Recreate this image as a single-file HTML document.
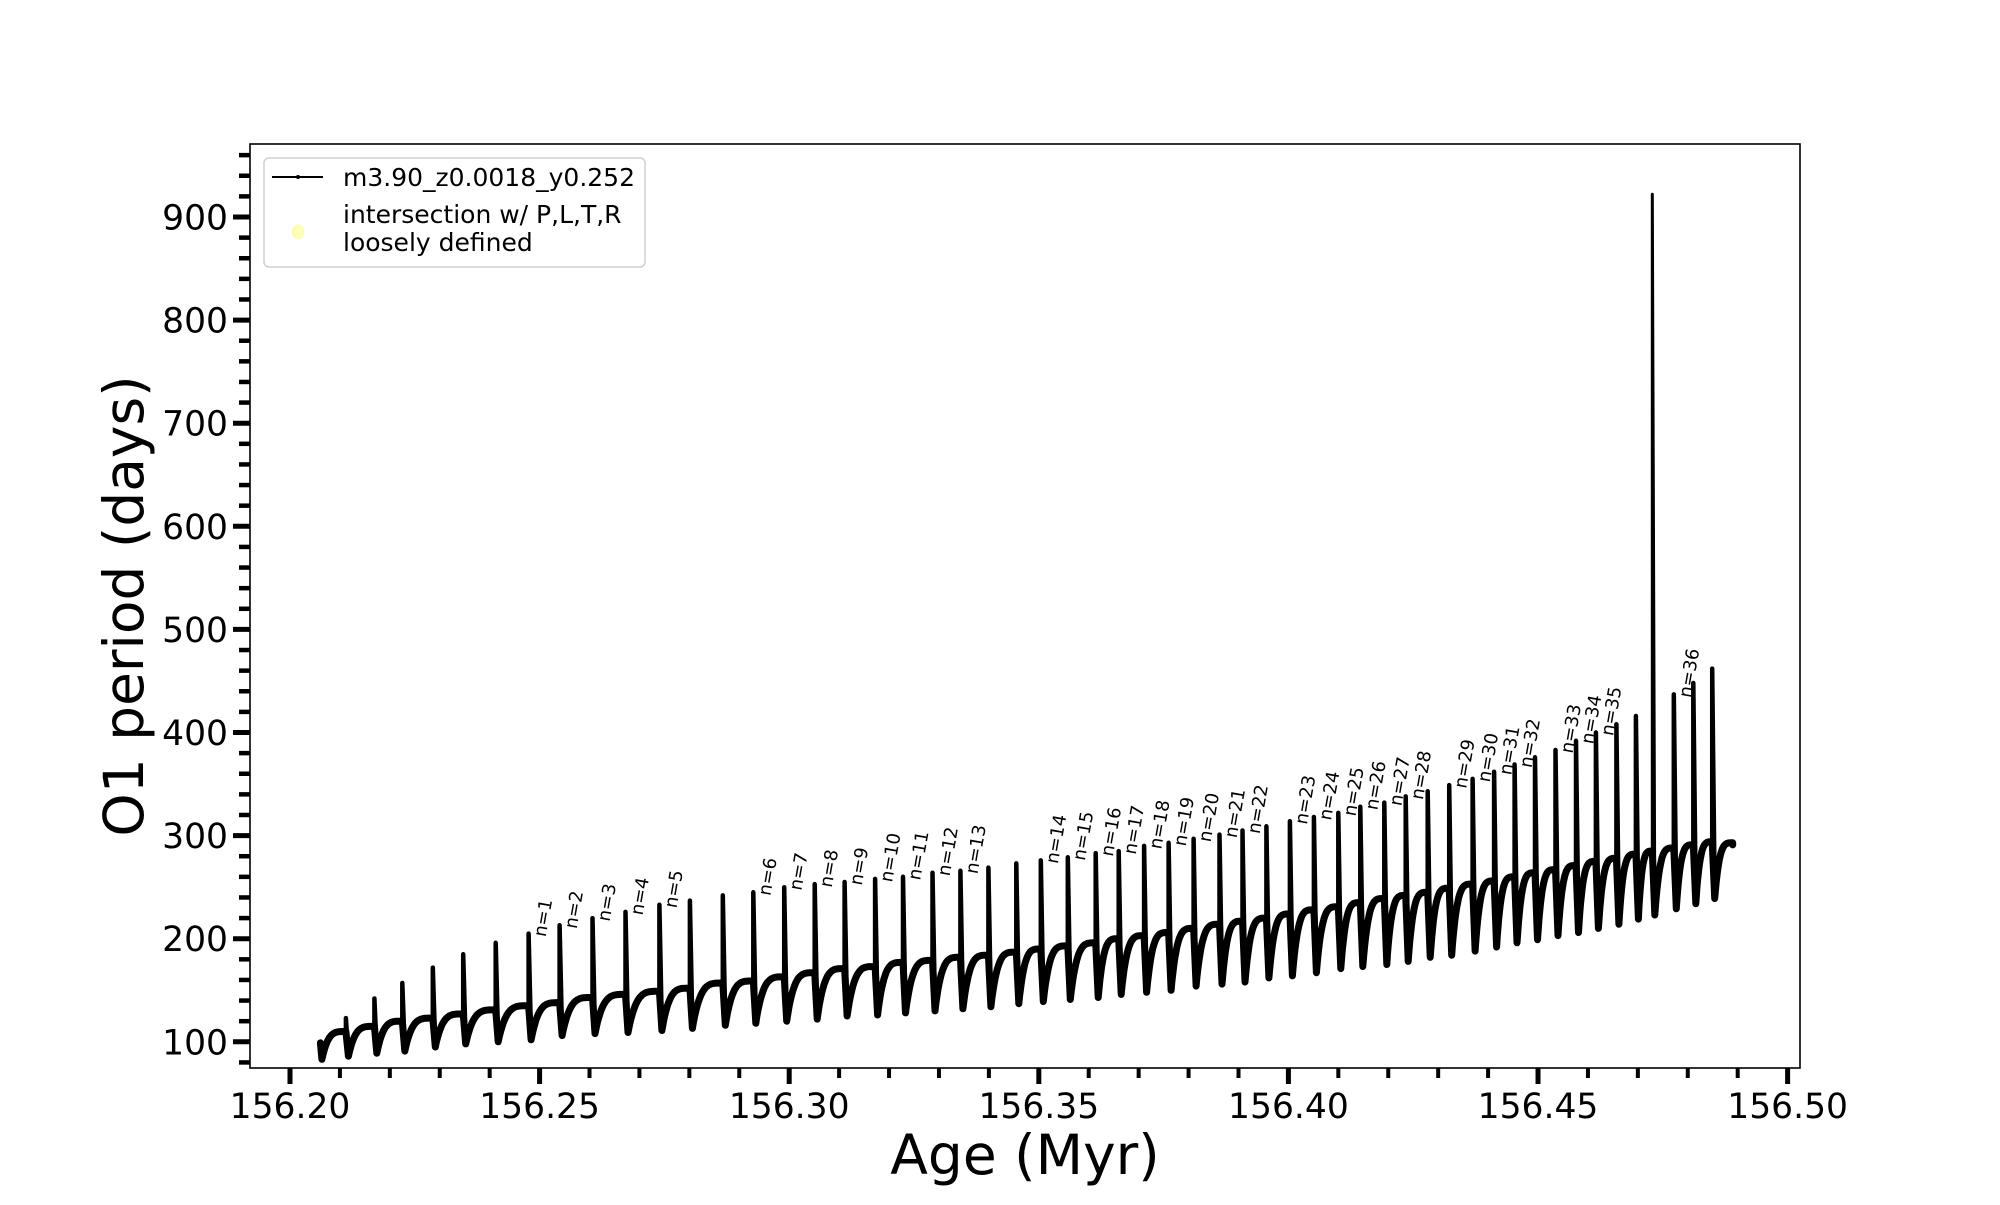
<!DOCTYPE html>
<html><head><meta charset="utf-8"><style>
html,body{margin:0;padding:0;background:#fff;}
svg text{font-family:"DejaVu Sans","Liberation Sans",sans-serif;}
</style></head><body>
<svg id="chart" width="2000" height="1200" viewBox="0 0 2000 1200" xmlns="http://www.w3.org/2000/svg">
<rect x="0" y="0" width="2000" height="1200" fill="#fff"/>
<g id="plot"></g>
<g id="axes"></g>
</svg>
<script>
const startAge = 156.2061, startValue = 99, startTrough = 83;
const endAge = 156.4890, endValue = 293;
const spikeAges = [156.2112,156.2169,156.2225,156.2286,156.2347,156.2412,156.2478,156.2540,156.2606,156.2672,156.2740,156.2801,156.2867,156.2928,156.2990,156.3051,156.3111,156.3172,156.3228,156.3287,156.3343,156.3399,156.3455,156.3504,156.3558,156.3614,156.3660,156.3711,156.3760,156.3810,156.3862,156.3908,156.3956,156.4003,156.4051,156.4100,156.4144,156.4192,156.4235,156.4279,156.4322,156.4369,156.4412,156.4453,156.4494,156.4535,156.4576,156.4616,156.4657,156.4696,156.4729,156.4772,156.4811,156.4849];
const spikeTops = [123,142,157,172,185,196,205,213,220,226,233,237,242,245,250,253,255,258,260,264,266,269,273,276,279,283,285,290,293,297,301,305,309,314,318,322,328,332,338,343,349,355,362,369,376,383,392,400,408,416,922,437,448,462];
const troughs = [86,89,91,95,98,100,102,106,108,109,111,113,116,118,120,122,125,126,128,130,132,134,137,139,141,143,146,148,150,154,156,158,162,164,167,171,173,175,178,182,184,188,192,196,199,203,206,210,214,219,223,229,234,239];
const plateaus = [110,115,120,123,127,131,135,138,143,146,149,152,157,159,163,167,171,173,177,179,182,184,187,190,193,196,200,203,206,210,214,217,220,224,228,231,235,239,242,245,249,253,256,260,264,267,271,275,278,282,285,288,291,294];
const labelN = [0,0,0,0,0,0,1,2,3,4,5,0,0,6,7,8,9,10,11,12,13,0,0,14,15,16,17,18,19,20,21,22,0,23,24,25,26,27,28,0,29,30,31,32,0,33,34,35,0,0,0,36,0,0];
const xMajorTicks = ["156.20","156.25","156.30","156.35","156.40","156.45","156.50"];
const yMajorTicks = [100,200,300,400,500,600,700,800,900];

const NS = "http://www.w3.org/2000/svg";
const L = 250, R = 1800, T = 144, B = 1068;
const xMin = 156.19199, xMax = 156.50248, yMin = 74.6, yMax = 970.8;
function xs(a){ return L + (a - xMin) / (xMax - xMin) * (R - L); }
function ys(v){ return B - (v - yMin) / (yMax - yMin) * (B - T); }
function mk(tag, attrs, parent){ const e = document.createElementNS(NS, tag); for (const k in attrs) e.setAttribute(k, attrs[k]); parent.appendChild(e); return e; }

const plot = document.getElementById('plot');
const axes = document.getElementById('axes');

const dt = 0.0005;
function hump(a0, tr, a1, p1, pts){
  const n = 24;
  for (let k = 1; k <= n; k++){
    const u = k / n;
    const f = 1 - Math.pow(1 - u, 4);
    pts.push([xs(a0 + dt + (a1 - a0 - dt) * u), ys(tr + (p1 - tr) * f)]);
  }
}
let curve = [];
curve.push([xs(startAge), ys(startValue)]);
curve.push([xs(startAge + dt * 0.6), ys(startTrough)]);
hump(startAge - dt * 0.4, startTrough, spikeAges[0], plateaus[0], curve);
const spikeSegs = [];
for (let i = 0; i < spikeAges.length; i++){
  const a = spikeAges[i];
  spikeSegs.push([xs(a), ys(plateaus[i]), ys(spikeTops[i]), ys(troughs[i]), xs(a + dt)]);
  curve.push([xs(a + dt), ys(troughs[i])]);
  const nextA = i + 1 < spikeAges.length ? spikeAges[i + 1] : endAge;
  const nextP = i + 1 < spikeAges.length ? plateaus[i + 1] : endValue;
  hump(a, troughs[i], nextA, nextP, curve);
}
curve.push([xs(endAge), ys(endValue - 2)]);

let d = '';
curve.forEach((p, k) => { d += (k ? 'L' : 'M') + p[0].toFixed(1) + ' ' + p[1].toFixed(1); });
const cp = mk('path', {d: d, fill: 'none', stroke: '#000', 'stroke-width': 7, 'stroke-linejoin': 'round', 'stroke-linecap': 'round'}, plot);



spikeSegs.forEach((s, i) => {
  const big = spikeTops[i] > 600;
  const sp = mk('path', {d: `M${s[0].toFixed(1)} ${s[1].toFixed(1)}L${s[0].toFixed(1)} ${s[2].toFixed(1)}L${s[4].toFixed(1)} ${s[3].toFixed(1)}`, fill: 'none', stroke: '#000', 'stroke-width': big ? 3 : 4.5, 'stroke-linejoin': 'round', 'stroke-linecap': 'round'}, plot);
  
  
  if (labelN[i] > 0){
    const tx = s[0] + 17, ty = s[2] + 4;
    const t = mk('text', {x: tx, y: ty, 'font-size': 18, fill: '#000', transform: `rotate(-80 ${tx} ${ty})`}, plot);
    t.textContent = 'n=' + labelN[i];
    
    
  }
});

const fr = mk('rect', {x: L, y: T, width: R - L, height: B - T, fill: 'none', stroke: '#000', 'stroke-width': 1.6}, axes);



for (let k = 0; k <= 30; k++){
  const a = 156.20 + k * 0.01;
  if (a > xMax) break;
  const x = xs(a);
  const major = k % 5 === 0;
  const tk = mk('line', {x1: x, x2: x, y1: B, y2: B + (major ? 16 : 10), stroke: '#000', 'stroke-width': major ? 5 : 4}, axes);
  
  
}
xMajorTicks.forEach(lbl => {
  const x = xs(parseFloat(lbl));
  const t = mk('text', {x: x, y: 1118, 'font-size': 34.5, 'text-anchor': 'middle', fill: '#000'}, axes);
  t.textContent = lbl;
  
  
});
for (let v = 80; v <= 960; v += 20){
  const y = ys(v);
  const major = v % 100 === 0;
  const tk = mk('line', {x1: L - (major ? 17 : 11), x2: L, y1: y, y2: y, stroke: '#000', 'stroke-width': major ? 5 : 4.5}, axes);
  
  
}
yMajorTicks.forEach(v => {
  const t = mk('text', {x: 228, y: ys(v) + 12.5, 'font-size': 34.5, 'text-anchor': 'end', fill: '#000'}, axes);
  t.textContent = String(v);
  
  
});
const xt = mk('text', {x: 1025, y: 1174, 'font-size': 55, 'text-anchor': 'middle', fill: '#000'}, axes);
xt.textContent = 'Age (Myr)';


const yt = mk('text', {x: 143, y: 606, 'font-size': 55, 'text-anchor': 'middle', fill: '#000', transform: 'rotate(-90 143 606)'}, axes);
yt.textContent = 'O1 period (days)';



const lg = mk('g', {}, axes);


mk('rect', {x: 264, y: 158, width: 381, height: 109, rx: 5, fill: '#fff', 'fill-opacity': 0.8, stroke: '#d0d0d0', 'stroke-width': 1.5}, lg);
const le1 = mk('g', {}, lg);


mk('line', {x1: 272, x2: 323, y1: 177, y2: 177, stroke: '#000', 'stroke-width': 2}, le1);
mk('circle', {cx: 298, cy: 177, r: 2, fill: '#000'}, le1);
const t1 = mk('text', {x: 343, y: 186, 'font-size': 25, fill: '#000'}, le1);
t1.textContent = 'm3.90_z0.0018_y0.252';
const le2 = mk('g', {}, lg);


mk('ellipse', {cx: 298, cy: 232, rx: 6.5, ry: 7.5, fill: '#fdfdb8'}, le2);
const t2 = mk('text', {x: 343, y: 223, 'font-size': 25, fill: '#000'}, le2);
t2.textContent = 'intersection w/ P,L,T,R';
const t3 = mk('text', {x: 343, y: 251, 'font-size': 25, fill: '#000'}, le2);
t3.textContent = 'loosely defined';
</script>
</body></html>
